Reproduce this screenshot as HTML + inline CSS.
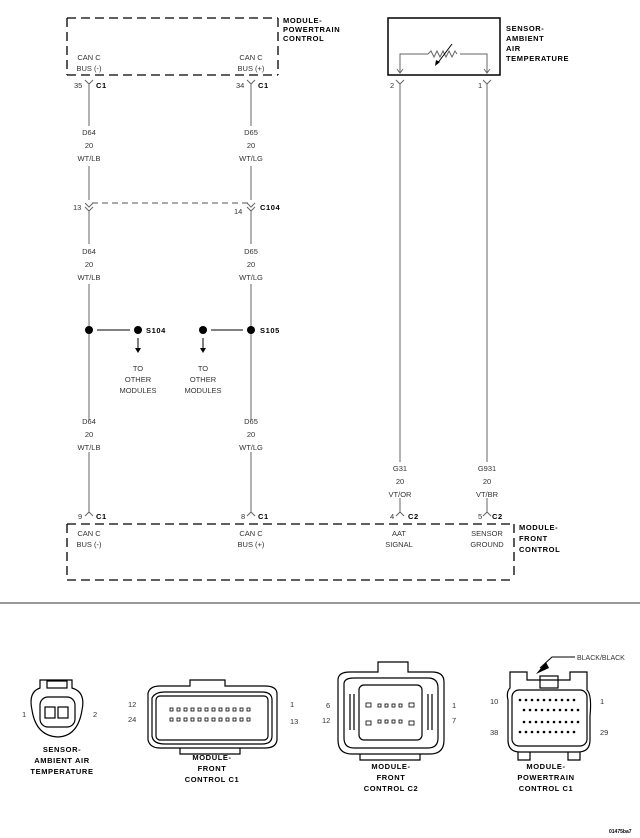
<!DOCTYPE html>
<html><head><meta charset="utf-8"><style>
html,body{margin:0;padding:0;background:#fff;}
svg{display:block;}
text{font-family:"Liberation Sans",sans-serif;font-size:7.5px;fill:#333;}
.b{font-weight:bold;fill:#000;font-size:7.5px;letter-spacing:0.6px;}
.c{text-anchor:middle;}
</style></head><body>
<svg width="640" height="838" viewBox="0 0 640 838" xmlns="http://www.w3.org/2000/svg">
<g fill="none" stroke="#000" stroke-width="1.3">
<!-- PCM box -->
<path d="M67 18 H278 M67 18 V75 M278 18 V75 M67 75 H278" stroke-dasharray="9,5"/>
<!-- sensor box -->
<rect x="388" y="18" width="112" height="57" stroke-width="1.5"/>
<!-- FCM box -->
<path d="M67 524 H514 M67 524 V580 M514 524 V580 M67 580 H514" stroke-dasharray="9,5"/>
<!-- C104 dashed -->
<path d="M92 203 H248" stroke-dasharray="6,4" stroke="#555" stroke-width="1"/>
</g>
<g stroke="#666" stroke-width="1" fill="none">
<!-- wires -->
<path d="M89 84 V126 M89 166 V200 M89 210 V244 M89 284 V420 M89 452 V512"/>
<path d="M251 84 V126 M251 166 V200 M251 210 V244 M251 284 V420 M251 452 V512"/>
<path d="M400 84 V462 M400 498 V512"/>
<path d="M487 84 V462 M487 498 V512"/>
<!-- Y connectors top -->
<path d="M85 80 L89 84 L93 80 M247 80 L251 84 L255 80 M396 80 L400 84 L404 80 M483 80 L487 84 L491 80"/>
<!-- C104 -->
<path d="M85 203 L89 207 L93 203 M85 207 L89 211 L93 207 M247 203 L251 207 L255 203 M247 207 L251 211 L255 207"/>
<!-- bottom connectors -->
<path d="M85 516 L89 512 L93 516 M247 516 L251 512 L255 516 M396 516 L400 512 L404 516 M483 516 L487 512 L491 516"/>
<!-- sensor internal -->
<path d="M400 73 V54 H428 M460 54 H487 V73"/>
<path d="M428 54 l3 -3 l3 6 l3 -6 l3 6 l3 -6 l3 6 l3 -6 l3 6 l3 -6 l2 3"/>
<path d="M397 69 L400 73 L403 69 M484 69 L487 73 L490 69"/>
<path d="M437 64 L452 44" stroke="#000"/>
<!-- splice horizontals -->
<path d="M97 330 H130 M211 330 H243" stroke="#000"/>
<path d="M138 338 V348 M203 338 V348" stroke="#000"/>
</g>
<polygon points="435,66 436,60 440,62" fill="#000"/>
<polygon points="135,348 141,348 138,353" fill="#000"/>
<polygon points="200,348 206,348 203,353" fill="#000"/>
<g fill="#000">
<circle cx="89" cy="330" r="4"/><circle cx="138" cy="330" r="4"/>
<circle cx="203" cy="330" r="4"/><circle cx="251" cy="330" r="4"/>
</g>
<!-- labels PCM -->
<text class="b" x="283" y="23">MODULE-</text>
<text class="b" x="283" y="32">POWERTRAIN</text>
<text class="b" x="283" y="41">CONTROL</text>
<text class="c" x="89" y="60">CAN C</text><text class="c" x="89" y="71">BUS (-)</text>
<text class="c" x="251" y="60">CAN C</text><text class="c" x="251" y="71">BUS (+)</text>
<text x="74" y="88">35</text><text class="b" x="96" y="88">C1</text>
<text x="236" y="88">34</text><text class="b" x="258" y="88">C1</text>
<text class="b" x="506" y="31">SENSOR-</text>
<text class="b" x="506" y="41">AMBIENT</text>
<text class="b" x="506" y="51">AIR</text>
<text class="b" x="506" y="61">TEMPERATURE</text>
<text x="390" y="88">2</text><text x="478" y="88">1</text>
<g class="c">
<text class="c" x="89" y="135">D64</text><text class="c" x="89" y="148">20</text><text class="c" x="89" y="161">WT/LB</text>
<text class="c" x="251" y="135">D65</text><text class="c" x="251" y="148">20</text><text class="c" x="251" y="161">WT/LG</text>
<text class="c" x="89" y="254">D64</text><text class="c" x="89" y="267">20</text><text class="c" x="89" y="280">WT/LB</text>
<text class="c" x="251" y="254">D65</text><text class="c" x="251" y="267">20</text><text class="c" x="251" y="280">WT/LG</text>
<text class="c" x="89" y="424">D64</text><text class="c" x="89" y="437">20</text><text class="c" x="89" y="450">WT/LB</text>
<text class="c" x="251" y="424">D65</text><text class="c" x="251" y="437">20</text><text class="c" x="251" y="450">WT/LG</text>
<text class="c" x="400" y="471">G31</text><text class="c" x="400" y="484">20</text><text class="c" x="400" y="497">VT/OR</text>
<text class="c" x="487" y="471">G931</text><text class="c" x="487" y="484">20</text><text class="c" x="487" y="497">VT/BR</text>
<text class="c" x="138" y="371">TO</text><text class="c" x="138" y="382">OTHER</text><text class="c" x="138" y="393">MODULES</text>
<text class="c" x="203" y="371">TO</text><text class="c" x="203" y="382">OTHER</text><text class="c" x="203" y="393">MODULES</text>
</g>
<text x="73" y="210">13</text><text x="234" y="214">14</text><text class="b" x="260" y="210">C104</text>
<text class="b" x="146" y="333">S104</text><text class="b" x="260" y="333">S105</text>
<text x="78" y="519">9</text><text class="b" x="96" y="519">C1</text>
<text x="241" y="519">8</text><text class="b" x="258" y="519">C1</text>
<text x="390" y="519">4</text><text class="b" x="408" y="519">C2</text>
<text x="478" y="519">5</text><text class="b" x="492" y="519">C2</text>
<text class="c" x="89" y="536">CAN C</text><text class="c" x="89" y="547">BUS (-)</text>
<text class="c" x="251" y="536">CAN C</text><text class="c" x="251" y="547">BUS (+)</text>
<text class="c" x="399" y="536">AAT</text><text class="c" x="399" y="547">SIGNAL</text>
<text class="c" x="487" y="536">SENSOR</text><text class="c" x="487" y="547">GROUND</text>
<text class="b" x="519" y="530">MODULE-</text>
<text class="b" x="519" y="541">FRONT</text>
<text class="b" x="519" y="552">CONTROL</text>
<line x1="0" y1="603" x2="640" y2="603" stroke="#333" stroke-width="1"/>
<!-- bottom connector views -->
<g fill="none" stroke="#000" stroke-width="1.2">
<!-- sensor -->
<path d="M40 680 H72 V688 Q86 692 82 710 Q78 736 58 737 Q36 736 32 710 Q28 692 40 688 Z"/>
<rect x="40" y="697" width="35" height="30" rx="8"/>
<rect x="45" y="707" width="10" height="11"/><rect x="58" y="707" width="10" height="11"/>
<rect x="47" y="681" width="20" height="7"/>
<!-- FCM C1 -->
<path d="M148 693 Q150 686 160 686 H190 V680 H225 V686 H265 Q276 686 277 693 V740 Q276 748 265 748 H160 Q150 748 148 740 Z"/>
<path d="M152 698 Q155 692 165 692 H262 Q272 692 272 700 V736 Q272 744 262 744 H165 Q153 744 152 736 Z"/>
<rect x="156" y="696" width="112" height="44" rx="4"/>
<path d="M180 748 V754 H240 V748"/>
<!-- FCM C2 -->
<path d="M338 680 Q338 672 350 672 H378 V662 H408 V672 H432 Q444 672 444 682 V740 Q444 754 430 754 H352 Q338 754 338 740 Z"/>
<path d="M344 684 Q344 678 354 678 H428 Q438 678 438 688 V738 Q438 748 428 748 H354 Q344 748 344 738 Z"/>
<rect x="359" y="685" width="63" height="55" rx="5"/>
<path d="M350 694 V730 M354 694 V730 M428 694 V730 M432 694 V730"/>
<path d="M360 754 V760 H420 V754"/>
<!-- PCM C1 -->
<path d="M510 672 H527 V680 H570 V672 H587 V690 Q592 695 590 716 V740 Q590 752 578 752 H520 Q508 752 508 740 V700 Q506 692 510 688 Z"/>
<rect x="512" y="690" width="75" height="56" rx="7"/>
<rect x="540" y="676" width="18" height="12"/>
<path d="M518 752 V760 H530 V752 M568 752 V760 H580 V752"/>
<path d="M540 668 L552 657 H575" stroke-width="1"/>
</g>
<polygon points="536,674 546,662 549,668" fill="#000"/>
<g fill="none" stroke="#000" stroke-width="0.8">
<g id="r1">
<rect x="170" y="708" width="3" height="3"/><rect x="177" y="708" width="3" height="3"/><rect x="184" y="708" width="3" height="3"/><rect x="191" y="708" width="3" height="3"/><rect x="198" y="708" width="3" height="3"/><rect x="205" y="708" width="3" height="3"/><rect x="212" y="708" width="3" height="3"/><rect x="219" y="708" width="3" height="3"/><rect x="226" y="708" width="3" height="3"/><rect x="233" y="708" width="3" height="3"/><rect x="240" y="708" width="3" height="3"/><rect x="247" y="708" width="3" height="3"/>
</g>
<use href="#r1" y="10"/>
<rect x="366" y="703" width="5" height="4"/><rect x="378" y="704" width="3" height="3"/><rect x="385" y="704" width="3" height="3"/><rect x="392" y="704" width="3" height="3"/><rect x="399" y="704" width="3" height="3"/><rect x="409" y="703" width="5" height="4"/>
<rect x="366" y="721" width="5" height="4"/><rect x="378" y="720" width="3" height="3"/><rect x="385" y="720" width="3" height="3"/><rect x="392" y="720" width="3" height="3"/><rect x="399" y="720" width="3" height="3"/><rect x="409" y="721" width="5" height="4"/>
</g>
<g fill="#000">
<g id="p1"><circle cx="520" cy="700" r="1.3"/><circle cx="526" cy="700" r="1.3"/><circle cx="532" cy="700" r="1.3"/><circle cx="538" cy="700" r="1.3"/><circle cx="544" cy="700" r="1.3"/><circle cx="550" cy="700" r="1.3"/><circle cx="556" cy="700" r="1.3"/><circle cx="562" cy="700" r="1.3"/><circle cx="568" cy="700" r="1.3"/><circle cx="574" cy="700" r="1.3"/></g>
<use href="#p1" x="4" y="10"/><use href="#p1" x="4" y="22"/><use href="#p1" y="32"/>
</g>
<text x="22" y="717">1</text><text x="93" y="717">2</text>
<text x="128" y="707">12</text><text x="128" y="722">24</text>
<text x="290" y="707">1</text><text x="290" y="724">13</text>
<text x="326" y="708">6</text><text x="322" y="723">12</text>
<text x="452" y="708">1</text><text x="452" y="723">7</text>
<text x="490" y="704">10</text><text x="490" y="735">38</text>
<text x="600" y="704">1</text><text x="600" y="735">29</text>
<text x="577" y="660" style="font-size:7px">BLACK/BLACK</text>
<g class="c">
<text class="b c" x="62" y="752">SENSOR-</text><text class="b c" x="62" y="763">AMBIENT AIR</text><text class="b c" x="62" y="774">TEMPERATURE</text>
<text class="b c" x="212" y="760">MODULE-</text><text class="b c" x="212" y="771">FRONT</text><text class="b c" x="212" y="782">CONTROL C1</text>
<text class="b c" x="391" y="769">MODULE-</text><text class="b c" x="391" y="780">FRONT</text><text class="b c" x="391" y="791">CONTROL C2</text>
<text class="b c" x="546" y="769">MODULE-</text><text class="b c" x="546" y="780">POWERTRAIN</text><text class="b c" x="546" y="791">CONTROL C1</text>
</g>
<text class="b" x="609" y="833" style="font-size:5px;letter-spacing:0">01475ba7</text>
</svg>
</body></html>
